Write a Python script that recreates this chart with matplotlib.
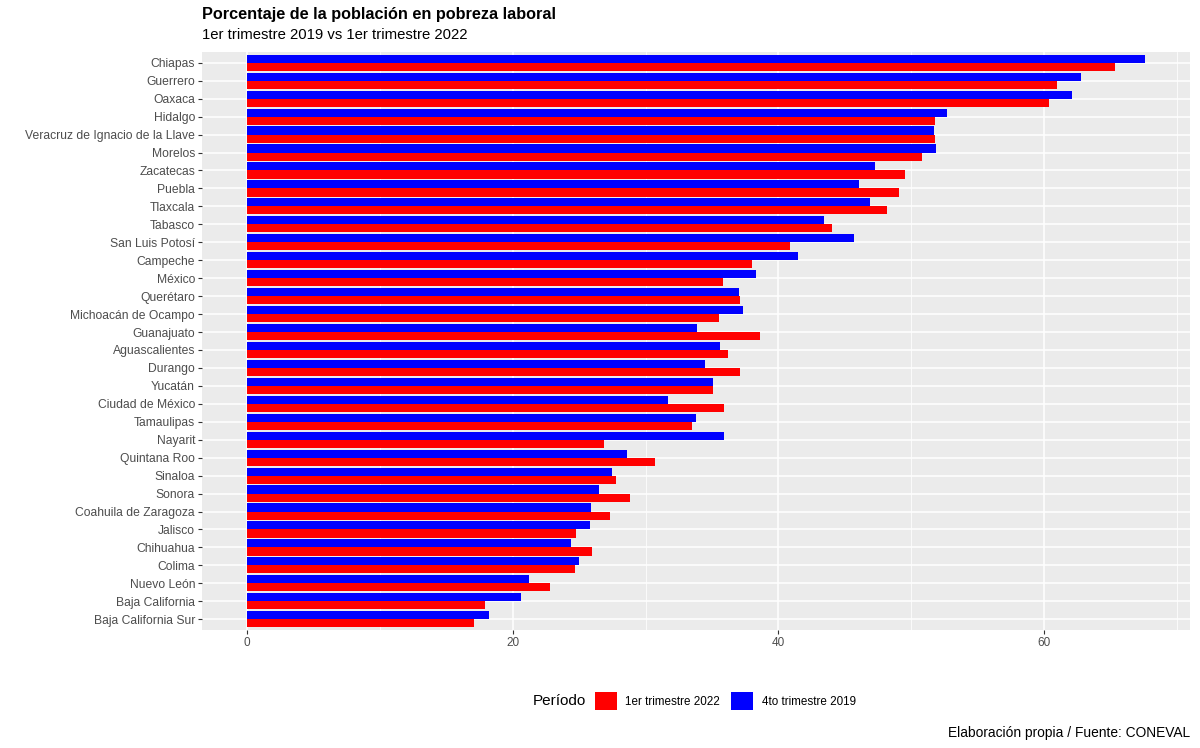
import matplotlib
matplotlib.use("Agg")
import matplotlib.pyplot as plt
from matplotlib.patches import Patch
import numpy as np

plt.rcParams['font.family'] = ['Liberation Sans', 'DejaVu Sans']

estados = ["Chiapas", "Guerrero", "Oaxaca", "Hidalgo", "Veracruz de Ignacio de la Llave",
           "Morelos", "Zacatecas", "Puebla", "Tlaxcala", "Tabasco", "San Luis Potosí",
           "Campeche", "México", "Querétaro", "Michoacán de Ocampo", "Guanajuato",
           "Aguascalientes", "Durango", "Yucatán", "Ciudad de México", "Tamaulipas",
           "Nayarit", "Quintana Roo", "Sinaloa", "Sonora", "Coahuila de Zaragoza",
           "Jalisco", "Chihuahua", "Colima", "Nuevo León", "Baja California",
           "Baja California Sur"]

t2019 = [67.6, 62.8, 62.1, 52.7, 51.7, 51.9, 47.3, 46.1, 46.9, 43.4, 45.7,
         41.5, 38.3, 37.0, 37.3, 33.9, 35.6, 34.5, 35.1, 31.7, 33.8,
         35.9, 28.6, 27.5, 26.5, 25.9, 25.8, 24.4, 25.0, 21.2, 20.6, 18.2]

t2022 = [65.3, 61.0, 60.4, 51.8, 51.8, 50.8, 49.5, 49.1, 48.2, 44.0, 40.9,
         38.0, 35.8, 37.1, 35.5, 38.6, 36.2, 37.1, 35.1, 35.9, 33.5,
         26.9, 30.7, 27.8, 28.8, 27.3, 24.8, 26.0, 24.7, 22.8, 17.9, 17.1]

xticks = [0, 20, 40, 60]
periodos = ["1er trimestre 2022", "4to trimestre 2019"]
colores = ["#FF0000", "#0000FF"]

W, H = 1200, 748
fig = plt.figure(figsize=(12, 7.48), dpi=100)
ax = fig.add_axes([202 / W, (H - 630) / H, (1190 - 202) / W, (630 - 52) / H])
ax.set_facecolor("#EBEBEB")
for s in ax.spines.values():
    s.set_visible(False)

n = len(estados)
y = np.arange(n)
bw = 0.45
ax.barh(y + bw / 2, t2022, height=bw, color=colores[0], zorder=3)
ax.barh(y - bw / 2, t2019, height=bw, color=colores[1], zorder=3)

ax.set_ylim(n - 1 + 0.6, -0.6)
xmax = max(max(t2019), max(t2022))
ax.set_xlim(-0.05 * xmax, 1.05 * xmax)

ax.set_yticks(y)
ax.set_yticklabels(estados)
ax.set_xticks(xticks)
ax.set_xticklabels([str(v) for v in xticks])
ax.set_xticks([10, 30, 50, 70], minor=True)
ax.tick_params(axis='both', which='major', labelsize=8.7, colors="#333333",
               labelcolor="#4D4D4D", length=3, width=0.8, pad=2)
ax.tick_params(axis='x', which='major', labelsize=8.5)
ax.tick_params(axis='x', which='minor', length=0)
ax.grid(True, which='major', color='white', linewidth=1.1, zorder=0)
ax.grid(True, which='minor', axis='x', color='white', linewidth=0.55, zorder=0)
ax.set_axisbelow(True)

fig.text(202 / W, 1 - 14 / H, "Porcentaje de la población en pobreza laboral",
         fontsize=11.7, fontweight='bold', ha='left', va='center', color='black')
fig.text(202 / W, 1 - 35 / H, "1er trimestre 2019 vs 1er trimestre 2022",
         fontsize=10.7, ha='left', va='center', color='black')

fig.text(533 / W, 1 - 701 / H, "Período", fontsize=11, ha='left', va='center')
handles = [Patch(facecolor=c, edgecolor='none') for c in colores]
fig.legend(handles, periodos, loc='center left', bbox_to_anchor=(595 / W, 1 - 701 / H),
           ncol=2, frameon=False, fontsize=8.4, handlelength=1.9, handleheight=1.9,
           handletextpad=0.7, columnspacing=0.95, borderaxespad=0, borderpad=0)

fig.text(1190 / W, 1 - 733 / H, "Elaboración propia / Fuente: CONEVAL",
         fontsize=9.9, ha='right', va='center', color='black')

fig.savefig("out.png", dpi=100)
